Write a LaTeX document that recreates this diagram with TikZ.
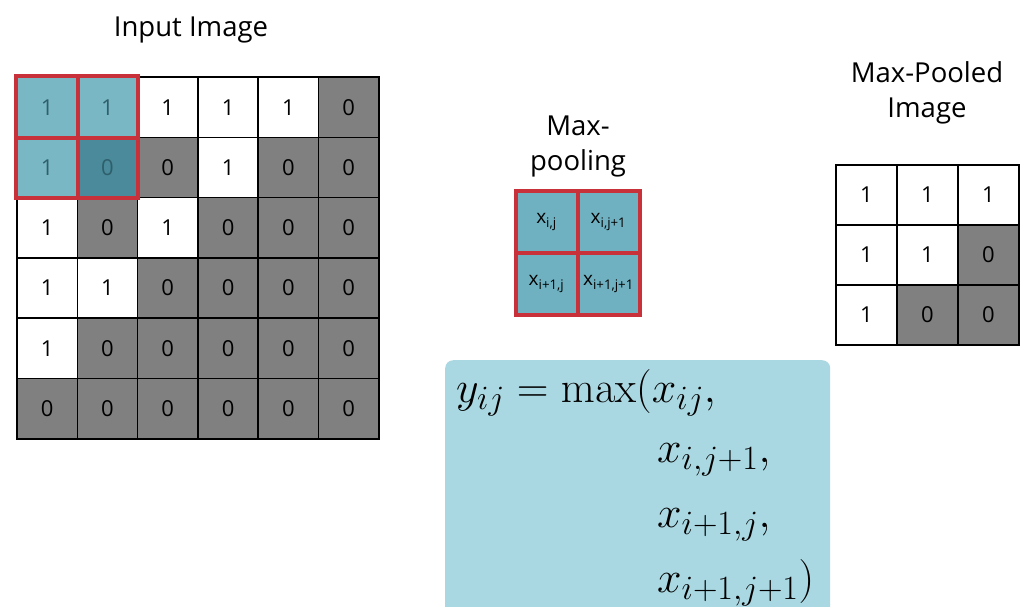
\RequirePackage{fix-cm}
\documentclass[tikz,border=0pt]{standalone}
\usepackage[no-math]{fontspec}
\setmainfont{Open Sans}
\usepackage{amsmath}
\DeclareMathSizes{44}{44}{34}{25}
\definecolor{cgray}{HTML}{808080}
\definecolor{hlblue}{HTML}{79B7C5}
\definecolor{hldark}{HTML}{4A8A9A}
\definecolor{hltext}{HTML}{2E5F6B}
\definecolor{poolblue}{HTML}{6FB1C1}
\definecolor{boxblue}{HTML}{AAD8E2}
\definecolor{cred}{HTML}{C8313A}
\begin{document}
\begin{tikzpicture}[x=1pt,y=-1pt,
  cellbase/.style={draw=black,line width=1.6pt,minimum width=60.3pt,minimum height=60.3pt,inner sep=0pt,font=\fontsize{22}{26}\selectfont},
  cell1/.style={cellbase,fill=white},
  cell0/.style={cellbase,fill=cgray},
  hl1/.style={cellbase,fill=hlblue,text=hltext},
  hl0/.style={cellbase,fill=hldark,text=hltext},
  redline/.style={draw=cred,line width=4pt},
  poolcell/.style={fill=poolblue,draw=cred,line width=4pt,minimum width=62pt,minimum height=62pt,inner sep=0pt,font=\fontsize{19}{22}\selectfont},
  title/.style={font=\fontsize{27.5}{35}\selectfont,align=center},
  eqline/.style={anchor=base west,inner sep=0pt,font=\fontsize{44}{52}\selectfont}]
\useasboundingbox (0,0) rectangle (1030,606);
% Input image
\node[title] (tin) at (191,30) {Input Image};
\foreach \r/\vals in {1/{1,1,1,1,1,0},2/{1,0,0,1,0,0},3/{1,0,1,0,0,0},4/{1,1,0,0,0,0},5/{1,0,0,0,0,0},6/{0,0,0,0,0,0}}{
  \foreach \v [count=\c] in \vals {
    \pgfmathtruncatemacro\hl{(\r<3)&&(\c<3)}
    \ifnum\hl=1 \def\sty{hl\v}\else\def\sty{cell\v}\fi
    \node[\sty] (in-\r-\c) at ({17+60.3*(\c-0.5)},{77+60.3*(\r-0.5)}) {\v};
  }
}
\draw[redline] (in-1-1.north west) rectangle (in-2-2.south east);
\draw[redline] (in-1-1.north east) -- (in-2-1.south east);
\draw[redline] (in-1-1.south west) -- (in-1-2.south east);
% Max-pooling kernel
\node[title] (tpool) at (578,146) {Max-\\pooling};
\node[poolcell] (p11) at (546.5,222) {x\textsubscript{i,j}};
\node[poolcell] (p12) at (608.5,222) {x\textsubscript{i,j+1}};
\node[poolcell] (p21) at (546.5,284) {x\textsubscript{i+1,j}};
\node[poolcell] (p22) at (608.5,284) {x\textsubscript{i+1,j+1}};
% Max-pooled image
\node[title] (tout) at (927,93) {Max-Pooled\\Image};
\foreach \r/\vals in {1/{1,1,1},2/{1,1,0},3/{1,0,0}}{
  \foreach \v [count=\c] in \vals {
    \node[cell\v,line width=2pt,minimum width=61pt,minimum height=60pt] (out-\r-\c) at ({836+61*(\c-0.5)},{165+60*(\r-0.5)}) {\v};
  }
}
% Formula
\node[fill=boxblue,rounded corners=8pt,minimum width=385pt,minimum height=262pt,anchor=north west,inner sep=0pt] (fbox) at (445,360) {};
\node[eqline] (eq1) at (456,402) {$y_{ij} = \max(x_{ij},$};
\node[eqline] (eq2) at (657,462) {$x_{i,j+1},$};
\node[eqline] (eq3) at (657,527) {$x_{i+1,j},$};
\node[eqline] (eq4) at (657,592) {$x_{i+1,j+1})$};
\end{tikzpicture}
\end{document}
